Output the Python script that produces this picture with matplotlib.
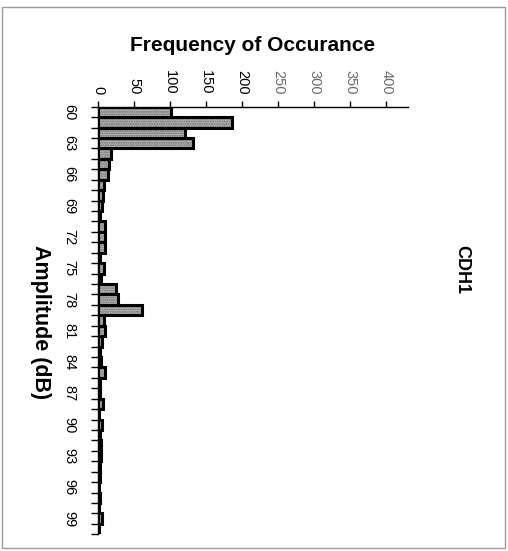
import matplotlib
matplotlib.use("Agg")
import matplotlib.pyplot as plt
from matplotlib.patches import Rectangle
import numpy as np

# Amplitude bins (dB) and the count of occurrences in each bin
amplitude_db = list(range(60, 101))
frequency = [101, 186, 121, 132, 17, 15, 14, 8, 7, 5,
             3, 10, 9, 9, 2, 8, 4, 24, 27, 61,
             8, 9, 5, 2, 4, 9, 2, 3, 7, 1,
             5, 2, 4, 4, 3, 3, 1, 2, 1, 5, 1]
amp_tick_labels = [str(v) for v in range(60, 100, 3)]
freq_ticks = [0, 50, 100, 150, 200, 250, 300, 350, 400]

title_text = "CDH1"
freq_label = "Frequency of Occurance"
amp_label = "Amplitude (dB)"

plt.rcParams["font.family"] = ["Liberation Sans", "DejaVu Sans"]

fig = plt.figure(figsize=(5.08, 5.51), dpi=100)
ax = fig.add_axes([0.1935, 0.0303, 0.6094, 0.776])

# stippled grey fill, then heavy black outlines on top
ax.barh(amplitude_db, frequency, height=1.0, color="#bdbdbd",
        edgecolor="#666666", hatch=".......", linewidth=0, zorder=2)
ax.barh(amplitude_db, frequency, height=1.0, fill=False,
        edgecolor="black", linewidth=2.2, zorder=3)

ax.set_xlim(0, 430)
ax.set_ylim(100.5, 59.5)

# value axis along the top
ax.xaxis.tick_top()
ax.set_xticks(freq_ticks)
ax.set_xticklabels([str(t) for t in freq_ticks], rotation=-90,
                   fontsize=10.5, va="bottom", ha="center")
ax.tick_params(axis="x", direction="out", length=4, width=1, pad=5)
for lbl, t in zip(ax.get_xticklabels(), freq_ticks):
    if t >= 250:
        lbl.set_color("#6a6a6a")

# amplitude axis on the left: tick marks on bin edges, labels every 3 dB
ax.set_yticks(np.arange(59.5, 101.0, 1.0), minor=True)
ax.set_yticks(list(range(60, 100, 3)))
ax.set_yticklabels(amp_tick_labels, rotation=-90, fontsize=10.5,
                   va="center", ha="right")
ax.tick_params(axis="y", which="major", length=0, pad=16)
ax.tick_params(axis="y", which="minor", direction="out", length=5, width=1)

for side in ("right", "bottom"):
    ax.spines[side].set_visible(False)
ax.spines["top"].set_linewidth(1.0)
ax.spines["left"].set_linewidth(1.0)

fig.text(0.498, 0.918, freq_label, fontsize=15, fontweight="bold",
         ha="center", va="center")
fig.text(0.079, 0.415, amp_label, fontsize=15.5, fontweight="bold",
         rotation=-90, ha="center", va="center")
fig.text(0.909, 0.51, title_text, fontsize=13, fontweight="bold",
         rotation=-90, ha="center", va="center")

# thin grey frame around the whole page
fig.patches.append(Rectangle((0.004, 0.006), 0.990, 0.981,
                             transform=fig.transFigure, fill=False,
                             edgecolor="#9a9a9a", linewidth=1.0))

fig.savefig("out.png", dpi=100, facecolor="white")
